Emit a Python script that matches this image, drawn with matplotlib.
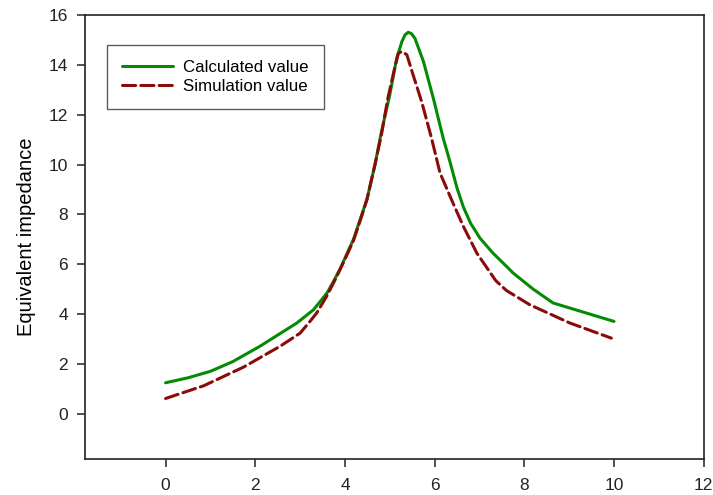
import matplotlib
matplotlib.use("Agg")
import matplotlib.pyplot as plt

plt.rcParams['font.family'] = ['Liberation Sans', 'DejaVu Sans']

# ================= Data =================
calc_x = [0.0, 0.5, 1.0, 1.5, 2.1, 2.93, 3.3, 3.6, 3.74, 3.9, 4.0, 4.19, 4.34, 4.49,
          4.67, 4.8, 5.0, 5.15, 5.27, 5.34, 5.41, 5.48, 5.56, 5.75, 5.97, 6.19, 6.34,
          6.5, 6.64, 6.8, 7.01, 7.3, 7.64, 7.75, 8.2, 8.64, 10.0]
calc_y = [1.25, 1.45, 1.71, 2.1, 2.71, 3.65, 4.18, 4.85, 5.3, 5.85, 6.25, 7.0, 7.8, 8.6,
          10.0, 11.2, 12.8, 14.23, 14.93, 15.2, 15.3, 15.25, 15.06, 14.13, 12.66, 11.06,
          10.12, 9.05, 8.3, 7.65, 7.05, 6.45, 5.85, 5.65, 5.0, 4.45, 3.71]

sim_x = [0.0, 0.85, 1.74, 2.55, 3.0, 3.22, 3.37, 3.59, 3.8, 4.0, 4.19, 4.34, 4.49,
         4.67, 4.82, 4.95, 5.1, 5.19, 5.27, 5.38, 5.52, 5.71, 5.82, 5.93, 6.12, 6.41,
         6.64, 6.94, 7.36, 7.6, 8.12, 9.01, 9.94]
sim_y = [0.62, 1.13, 1.88, 2.71, 3.24, 3.71, 4.05, 4.71, 5.45, 6.2, 6.95, 7.75, 8.6,
         10.0, 11.26, 12.6, 13.8, 14.46, 14.53, 14.4, 13.59, 12.52, 11.79, 11.06, 9.66, 8.45,
         7.52, 6.45, 5.35, 4.95, 4.38, 3.65, 3.04]

x_ticks = [0, 2, 4, 6, 8, 10, 12]
y_ticks = [0, 2, 4, 6, 8, 10, 12, 14, 16]

# ================= Figure =================
fig = plt.figure(figsize=(7.13, 4.95), dpi=100)
ax = fig.add_axes([0.119, 0.073, 0.868, 0.897])

ax.plot(calc_x, calc_y, color="#058a05", lw=2.2, label="Calculated value",
        solid_capstyle="round", solid_joinstyle="round")
ax.plot(sim_x, sim_y, color="#8b0a0a", lw=2.2, dashes=(4.3, 1.7),
        label="Simulation value", dash_capstyle="round", dash_joinstyle="round")

ax.set_xlim(-1.8, 12)
ax.set_ylim(-1.8, 16)
ax.set_xticks(x_ticks)
ax.set_yticks(y_ticks)
ax.tick_params(direction="out", length=6, width=1.1, labelsize=12.5, colors="#222222")
ax.tick_params(axis="x", pad=8)
ax.tick_params(axis="y", pad=6)
for sp in ax.spines.values():
    sp.set_linewidth(1.2)
    sp.set_color("#222222")

ax.set_ylabel("Equivalent impedance", fontsize=14.5, labelpad=9)

leg = ax.legend(loc="upper left", bbox_to_anchor=(0.036, 0.933), fontsize=12.2,
                handlelength=3.0, frameon=True, fancybox=False, borderpad=0.9,
                labelspacing=0.25, handletextpad=0.6, borderaxespad=0)
leg.get_frame().set_edgecolor("#333333")
leg.get_frame().set_linewidth(1.0)

fig.savefig("out.png", dpi=100)
